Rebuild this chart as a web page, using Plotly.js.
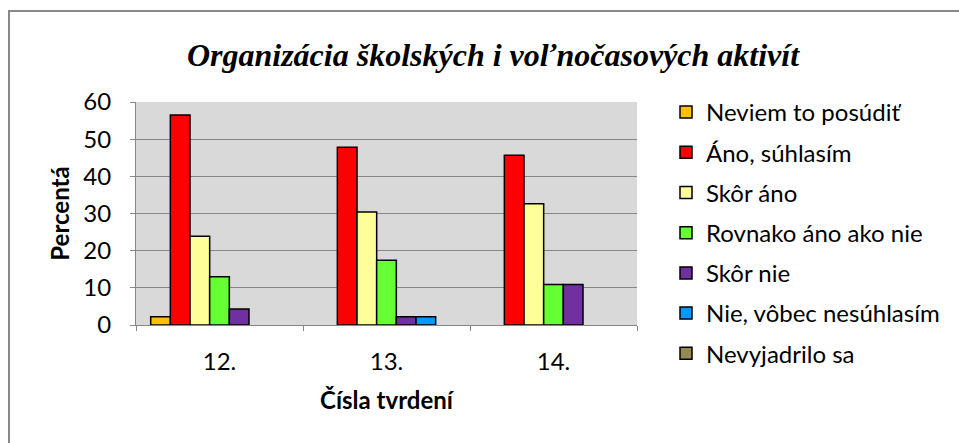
<!DOCTYPE html>
<html>
<head>
<meta charset="utf-8">
<script src="https://cdn.plot.ly/plotly-3.0.1.min.js"></script>
<style>html,body{margin:0;padding:0;background:#fff;}#chart{width:959px;height:443px;}</style>
</head>
<body>
<div id="chart"></div>
<script>
const categories = ["12.", "13.", "14."];
const seriesNames = ["Neviem to posúdiť", "Áno, súhlasím", "Skôr áno", "Rovnako áno ako nie", "Skôr nie", "Nie, vôbec nesúhlasím", "Nevyjadrilo sa"];
const neviem = [2.2, null, null];
const anoSuhlasim = [56.5, 47.8, 45.7];
const skorAno = [23.9, 30.4, 32.6];
const rovnako = [13.0, 17.4, 10.9];
const skorNie = [4.3, 2.2, 10.9];
const vobecNie = [null, 2.2, null];
const nevyjadrilo = [null, null, null];
const seriesValues = [neviem, anoSuhlasim, skorAno, rovnako, skorNie, vobecNie, nevyjadrilo];
const seriesColors = ["#FFC000", "#FF0000", "#FFFF99", "#66FF33", "#7030A0", "#0099FF", "#948A54"];
const yTicks = [0, 10, 20, 30, 40, 50, 60];

const font = "Lato, 'Open Sans', sans-serif";

const traces = seriesNames.map((name, i) => ({
  type: "bar",
  name: name,
  x: categories,
  y: seriesValues[i],
  legendgroup: "g" + i,
  marker: { color: seriesColors[i], line: { color: "#000000", width: 1.5 } },
  hoverinfo: "none"
}));

const L = 136, R = 637, T = 102, B = 325;
const W = 959, H = 443;
const px = v => (v - L) / (R - L);
const py = v => (B - v) / (B - T);

const layout = {
  width: W, height: H,
  margin: { l: L, r: W - R, t: T, b: H - B, pad: 0 },
  paper_bgcolor: "#ffffff",
  plot_bgcolor: "#D9D9D9",
  barmode: "group",
  bargap: 0.176,
  bargroupgap: 0,
  showlegend: true,
  title: {
    text: "Organizácia školských i voľnočasových aktivít",
    font: { family: "'Liberation Serif', 'Times New Roman', serif", size: 32, weight: "bold", style: "italic", color: "#000" },
    xref: "container", yref: "container",
    x: 493 / W, xanchor: "center",
    y: 1 - 55 / H, yanchor: "middle"
  },
  xaxis: {
    type: "category",
    showline: true, linecolor: "#868686", linewidth: 1,
    ticks: "outside", tickson: "boundaries", ticklen: 5, tickcolor: "#868686",
    ticklabelstandoff: 15,
    tickfont: { family: font, size: 24, color: "#000" },
    showgrid: false,
    title: { text: "Čísla tvrdení", font: { family: font, size: 24, weight: "bold", color: "#000" }, standoff: 18 }
  },
  yaxis: {
    range: [0, 60],
    tickvals: yTicks,
    showline: true, linecolor: "#868686", linewidth: 1,
    ticks: "outside", ticklen: 5, tickcolor: "#868686",
    ticklabelstandoff: 14,
    gridcolor: "#868686", gridwidth: 1.3,
    zeroline: false,
    tickfont: { family: font, size: 24, color: "#000" },
    title: { text: "Percentá", font: { family: font, size: 24, weight: "bold", color: "#000" }, standoff: 6 }
  },
  legend: {
    x: px(666), xanchor: "left",
    y: py(90), yanchor: "top",
    maxheight: 1,
    font: { family: font, size: 24, color: "#000" },
    tracegroupgap: 6,
    traceorder: "grouped",
    bgcolor: "rgba(0,0,0,0)"
  },
  shapes: [{
    type: "rect", xref: "paper", yref: "paper",
    x0: px(9), x1: px(1300), y0: py(700), y1: py(11),
    line: { color: "#878787", width: 2 }, fillcolor: "rgba(0,0,0,0)", layer: "below"
  }]
};

Plotly.newPlot("chart", traces, layout, { displayModeBar: false, staticPlot: true });
</script>
</body>
</html>
